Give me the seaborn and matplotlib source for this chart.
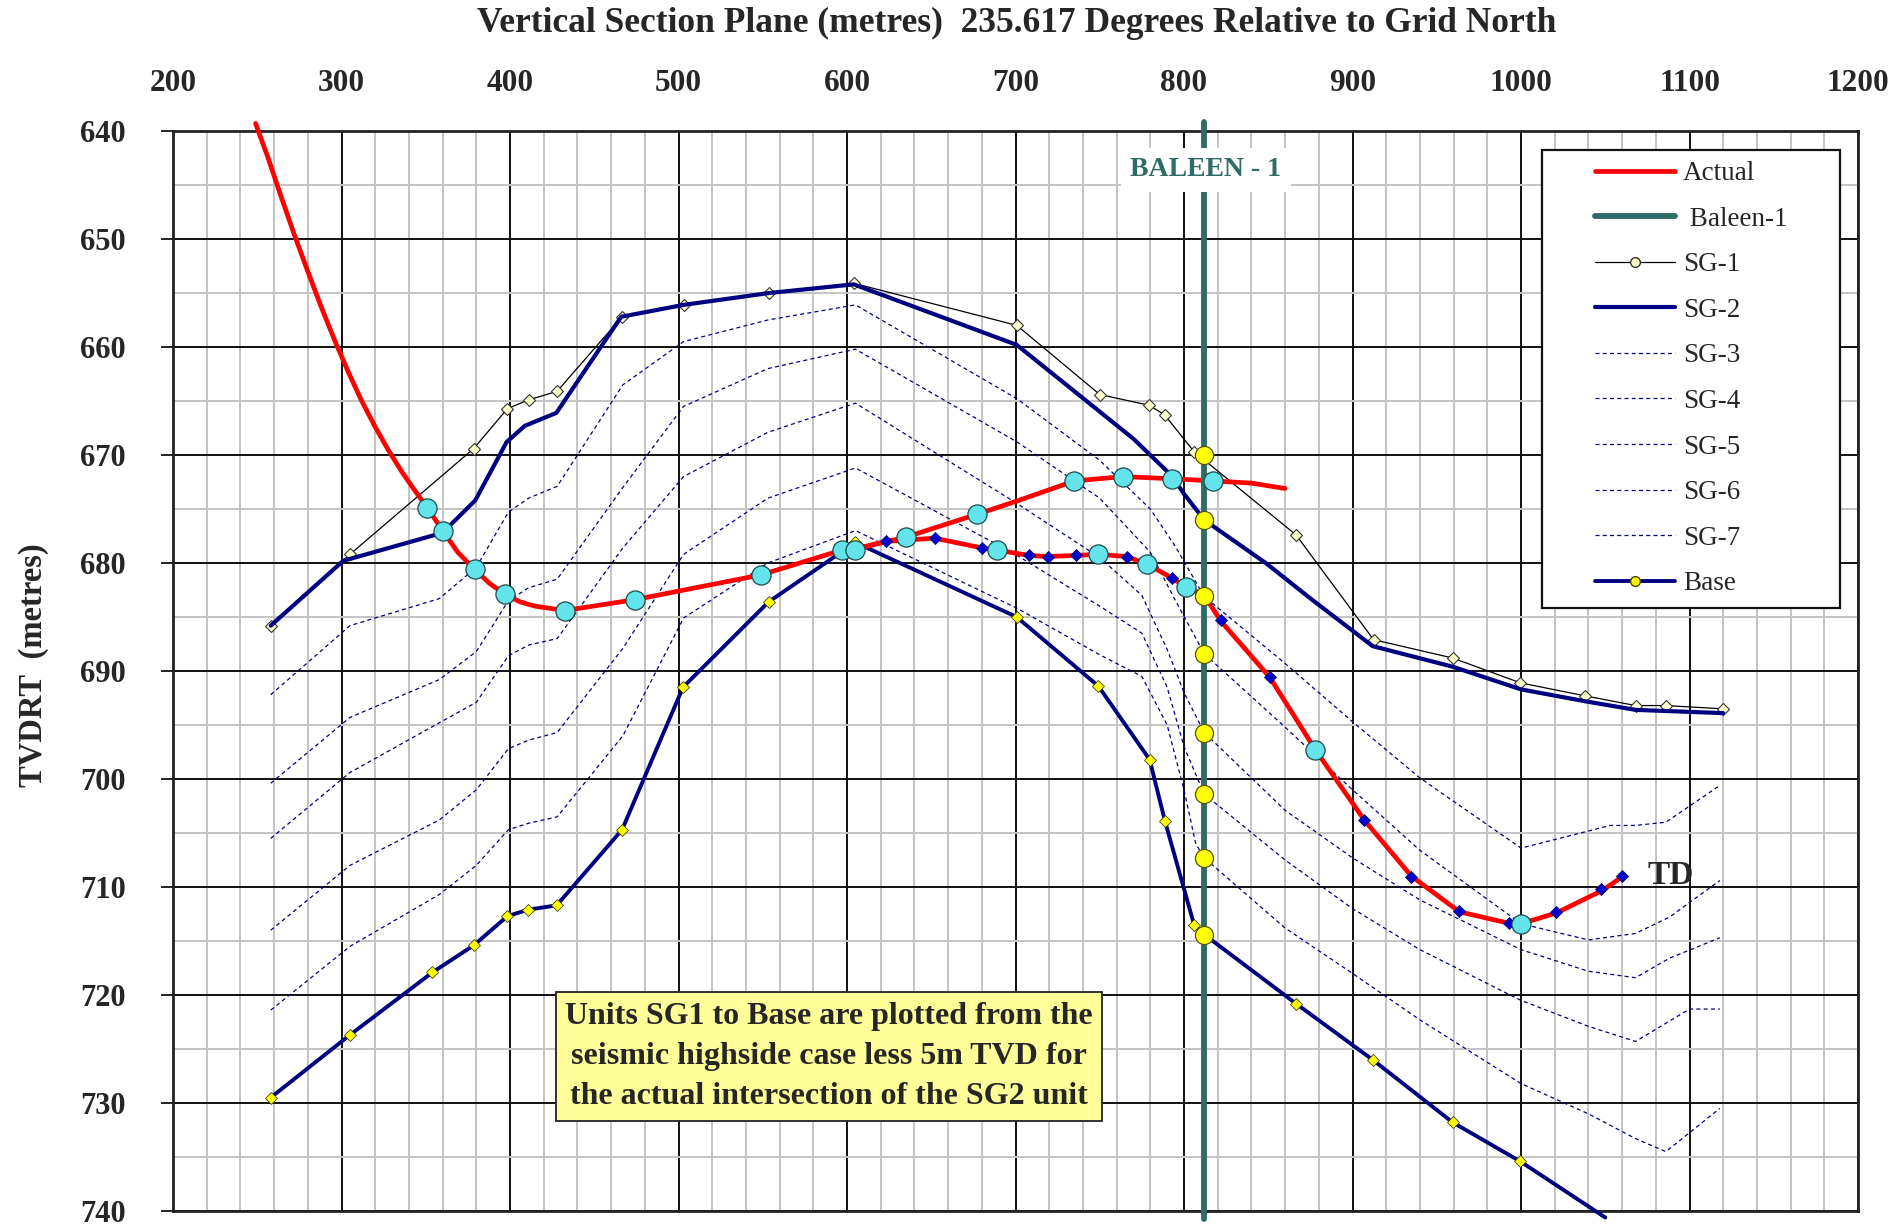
import numpy as np
import pandas as pd
import matplotlib
matplotlib.use("Agg")
import matplotlib.pyplot as plt
import seaborn as sns
from matplotlib.lines import Line2D
from matplotlib.patches import Rectangle
from matplotlib.ticker import MultipleLocator

# ---------------- data ----------------
actual_common_x = [249, 256, 264, 272, 280, 288, 296, 304, 312, 320, 328, 336, 344, 351, 360, 369, 379, 388, 397,
                   406, 415, 432.6, 474, 549, 597, 605]
actual_common_y = [639.3, 642.3, 646.0, 649.6, 653.0, 656.3, 659.4, 662.3, 665.0, 667.4, 669.6, 671.6, 673.4, 674.9,
                   677.0, 679.0, 680.6, 681.9, 682.9, 683.6, 684.0, 684.4, 683.4, 681.1, 678.8, 678.7]

actual_upper_x = [605, 635, 677, 702, 735, 764, 793, 817, 840, 860]
actual_upper_y = [678.7, 677.6, 675.5, 674.2, 672.4, 672.0, 672.2, 672.4, 672.6, 673.1]

actual_lower_x = [605, 623, 652, 680, 689, 708, 719, 736, 749, 766, 778, 793, 801, 812, 822, 851, 878, 907, 935,
                  963.5, 994, 1000, 1021, 1048.5, 1060.5]
actual_lower_y = [678.7, 678.0, 677.7, 678.6, 678.8, 679.3, 679.4, 679.3, 679.2, 679.4, 680.1, 681.4, 682.2, 683.0,
                  685.4, 690.6, 697.3, 703.8, 709.0, 712.3, 713.4, 713.4, 712.4, 710.3, 709.0]

survey_x = [623, 652, 680, 708, 719, 736, 766, 793, 822, 851, 907, 934.5, 963, 993, 1021, 1047.5, 1060]
survey_y = [678.0, 677.7, 678.6, 679.3, 679.4, 679.3, 679.4, 681.4, 685.3, 690.6, 703.8, 709.1, 712.2, 713.3, 712.3, 710.2, 709.0]

pick_x = [351, 360, 379, 397, 432.6, 474, 549, 597, 605, 635, 677, 735, 764, 793, 817, 689, 749, 778, 801, 878, 1000]
pick_y = [674.9, 677.0, 680.6, 682.9, 684.4, 683.4, 681.1, 678.8, 678.8, 677.6, 675.5, 672.4, 672.0, 672.2, 672.4,
          678.8, 679.2, 680.1, 682.2, 697.3, 713.4]

baleen_x = 812
baleen_top, baleen_bottom = 639.2, 740.7
baleen_tops_y = [670.0, 676.0, 683.1, 688.4, 695.7, 701.4, 707.3, 714.4]

sg1_x = [258, 305, 378.5, 398.5, 411, 428, 466.5, 503, 553.5, 604, 700.8, 750, 779.5, 788.6, 806, 866.5, 912.5,
         959.5, 999.7, 1038, 1068, 1086, 1119.6]
sg1_y = [685.8, 679.2, 669.4, 665.7, 664.9, 664.1, 657.2, 656.1, 655.0, 654.1, 658.0, 664.4, 665.4, 666.3, 669.7,
         677.4, 687.1, 688.8, 691.1, 692.3, 693.2, 693.2, 693.5]

sg2_x = [258, 301, 360, 379.4, 398, 408.8, 427.5, 466, 503, 553.9, 604, 700.7, 770, 792.6, 800, 812, 821, 848.5,
         876, 912, 959.4, 1000, 1038, 1068, 1120]
sg2_y = [685.8, 679.8, 677.2, 674.2, 668.8, 667.3, 666.1, 657.2, 656.1, 655.0, 654.2, 659.8, 668.5, 671.9, 673.6,
         676.0, 677.0, 680.0, 683.4, 687.7, 689.6, 691.7, 692.8, 693.6, 693.9]

sg3_x = [258, 305, 358, 380, 399, 411, 428, 467, 503, 553, 605, 701, 750, 780, 795, 812, 860, 900, 940, 1000, 1053,
         1068, 1086, 1118]
sg3_y = [692.2, 685.8, 683.3, 680.4, 675.3, 674.0, 672.9, 663.5, 659.5, 657.5, 656.1, 664.8, 670.5, 675.0, 678.5,
         683.1, 689.3, 694.7, 699.9, 706.4, 704.3, 704.3, 704.0, 700.6]

sg4_x = [258, 305, 358, 380, 399, 411, 428, 467, 503, 553, 605, 701, 750, 780, 795, 812, 860, 900, 940, 1000, 1040,
         1068, 1088, 1118]
sg4_y = [700.4, 694.3, 690.8, 688.2, 683.5, 682.3, 681.5, 673.0, 665.5, 662.0, 660.2, 668.8, 674.0, 679.0, 683.5,
         688.4, 695.2, 701.0, 706.6, 713.4, 714.9, 714.3, 712.8, 709.4]

sg5_x = [258, 305, 358, 380, 399, 411, 428, 467, 503, 553, 605, 701, 750, 775, 790, 800, 812, 860, 900, 940, 1000,
         1040, 1068, 1088, 1118]
sg5_y = [705.5, 699.4, 694.8, 692.9, 688.6, 687.6, 687.0, 678.6, 672.0, 667.9, 665.2, 674.5, 679.5, 683.0, 688.0,
         692.0, 695.7, 702.9, 707.3, 711.2, 715.8, 717.8, 718.4, 716.6, 714.7]

sg6_x = [258, 305, 358, 380, 399, 411, 428, 467, 503, 553, 605, 701, 750, 775, 790, 800, 812, 860, 900, 940, 1000,
         1040, 1068, 1100, 1118]
sg6_y = [714.0, 708.0, 703.8, 701.0, 697.2, 696.4, 695.7, 687.9, 679.2, 674.0, 671.2, 679.3, 684.0, 686.5, 691.5,
         697.0, 701.4, 707.5, 712.0, 715.8, 720.5, 722.9, 724.3, 721.3, 721.3]

sg7_x = [258, 305, 358, 380, 399, 411, 428, 467, 503, 553, 605, 701, 750, 775, 790, 800, 807, 812, 860, 900, 940,
         1000, 1040, 1068, 1086, 1118]
sg7_y = [721.4, 715.5, 710.7, 708.0, 704.7, 704.1, 703.5, 696.0, 685.1, 680.0, 677.0, 684.2, 688.5, 690.5, 695.0,
         701.0, 706.0, 707.3, 713.8, 718.0, 722.3, 728.2, 731.0, 733.3, 734.5, 730.5]

base_x = [258, 305, 354, 378.5, 398.5, 410.7, 427.7, 466.5, 502.7, 553.5, 605, 700.7, 749.2, 779.6, 788.7, 806,
          812, 866.5, 912, 959.5, 999.5, 1050]
base_y = [729.5, 723.7, 717.9, 715.4, 712.7, 712.1, 711.7, 704.7, 691.5, 683.6, 678.1, 685.0, 691.4, 698.2, 703.9,
          713.5, 714.4, 720.8, 726.0, 731.8, 735.4, 740.6]

legend_labels = ["Actual", " Baleen-1", "SG-1", "SG-2", "SG-3", "SG-4", "SG-5", "SG-6", "SG-7", "Base"]

title_text = "Vertical Section Plane (metres)  235.617 Degrees Relative to Grid North"
ylabel_text = "TVDRT  (metres)"
note_text = ("Units SG1 to Base are plotted from the\n"
             "seismic highside case less 5m TVD for\n"
             "the actual intersection of the SG2 unit")

# ---------------- style ----------------
RED = "#FF0000"
NAVY = "#000080"
TEAL = "#2F6B67"
CYAN = "#62E4EA"
YEL = "#FFFF00"
LYEL = "#FFFFCC"

sns.set_style("white")
plt.rcParams["font.family"] = ["Liberation Serif", "DejaVu Serif"]
plt.rcParams["font.weight"] = "bold"

W, H = 1904, 1227
fig = plt.figure(figsize=(W / 100, H / 100), dpi=100)
ax = fig.add_axes([173 / W, 1 - 1211 / H, (1858 - 173) / W, (1211 - 131) / H])


def line(x, y, **kw):
    df = pd.DataFrame({"x": x, "y": y})
    sns.lineplot(data=df, x="x", y="y", sort=False, estimator=None, ax=ax, legend=False, **kw)


def pts(x, y, **kw):
    df = pd.DataFrame({"x": x, "y": y})
    sns.scatterplot(data=df, x="x", y="y", ax=ax, legend=False, **kw)


dash = (0, (3.2, 2.6))
for xs, ys in [(sg3_x, sg3_y), (sg4_x, sg4_y), (sg5_x, sg5_y), (sg6_x, sg6_y), (sg7_x, sg7_y)]:
    line(xs, ys, color=NAVY, lw=0.9, linestyle=dash, zorder=2)

line(sg1_x, sg1_y, color="black", lw=0.9, marker="D", markersize=6, markerfacecolor=LYEL,
     markeredgecolor="#333333", markeredgewidth=0.8, zorder=3)
line(sg2_x, sg2_y, color=NAVY, lw=3.0, zorder=3)
line(base_x, base_y, color=NAVY, lw=2.8, marker="D", markersize=6, markerfacecolor=YEL,
     markeredgecolor="#444400", markeredgewidth=0.6, markevery=list(range(len(base_x) - 1)),
     zorder=3, clip_on=False)

line(actual_common_x, actual_common_y, color=RED, lw=3.4, zorder=4, clip_on=False)
line(actual_upper_x, actual_upper_y, color=RED, lw=3.4, zorder=4)
line(actual_lower_x, actual_lower_y, color=RED, lw=3.4, zorder=4)

line([baleen_x, baleen_x], [baleen_top, baleen_bottom], color=TEAL, lw=4.2, zorder=4.2, clip_on=False)

pts(survey_x, survey_y, marker="D", s=38, color="#0000CC", edgecolor="#000066", linewidth=0.5, zorder=4.5)
pts(pick_x, pick_y, marker="o", s=190, color=CYAN, edgecolor="#1E4B4B", linewidth=0.9, zorder=4.6)
pts([baleen_x] * len(baleen_tops_y), baleen_tops_y, marker="o", s=170, color=YEL, edgecolor="#555500",
    linewidth=0.9, zorder=4.7)

# ---------------- axes ----------------
ax.set_xlim(200, 1200)
ax.set_ylim(740, 640)
ax.xaxis.set_major_locator(MultipleLocator(100))
ax.xaxis.set_minor_locator(MultipleLocator(20))
ax.yaxis.set_major_locator(MultipleLocator(10))
ax.yaxis.set_minor_locator(MultipleLocator(5))
ax.set_axisbelow(True)
ax.grid(which="minor", color="#C4C4C4", lw=1.4)
ax.grid(which="major", color="#111111", lw=1.4)
ax.xaxis.tick_top()
ax.tick_params(axis="x", which="both", length=0, pad=24, labelsize=22.5)
ax.tick_params(axis="y", which="major", length=9, width=1.4, pad=25, labelsize=22, left=True)
ax.tick_params(axis="y", which="minor", length=0)
for sp in ax.spines.values():
    sp.set_linewidth(2.0)
    sp.set_color("#222222")
ax.set_xlabel("")
ax.set_ylabel("")

# ---------------- texts ----------------
fig.text(1017 / W, 1 - 23 / H, title_text, ha="center", va="center", fontsize=25.5, fontweight="bold")
fig.text(34 / W, 1 - 665 / H, ylabel_text, ha="center", va="center", rotation=90, fontsize=23.5,
         fontweight="bold")

ax.text(813, 643.6, "BALEEN - 1", ha="center", va="center", color=TEAL, fontsize=20, fontweight="bold",
        bbox=dict(boxstyle="square,pad=0.35", fc="white", ec="none"), zorder=6)
ax.text(1075, 708.9, "TD", ha="left", va="center", fontsize=24, fontweight="bold", zorder=6)
ax.text(589.3, 725.7, note_text, ha="center", va="center", fontsize=23, fontweight="bold", linespacing=1.5,
        bbox=dict(boxstyle="square,pad=0.3", fc="#FFFF99", ec="#222222", lw=1.3), zorder=6)

# ---------------- legend ----------------
handles = [
    Line2D([], [], color=RED, lw=3.4),
    Line2D([], [], color=TEAL, lw=4.2),
    Line2D([], [], color="black", lw=0.9, marker="o", markersize=7, markerfacecolor=LYEL, markeredgecolor="#333333"),
    Line2D([], [], color=NAVY, lw=3.0),
] + [Line2D([], [], color=NAVY, lw=0.9, linestyle=dash) for _ in range(5)] + [
    Line2D([], [], color=NAVY, lw=2.8, marker="o", markersize=7, markerfacecolor=YEL, markeredgecolor="#444400"),
]
ax.add_patch(Rectangle((1542 / W, 1 - 608 / H), 298 / W, 458 / H, transform=fig.transFigure,
                       facecolor="white", edgecolor="#111111", lw=1.6, zorder=7, clip_on=False))
leg = ax.legend(handles, legend_labels, loc="upper left", bbox_to_anchor=(1595 / W, 1 - 161 / H),
                bbox_transform=fig.transFigure, frameon=False, borderpad=0, borderaxespad=0,
                handlelength=2.95, handletextpad=0.3, labelspacing=0.76,
                prop={"family": ["Liberation Serif"], "weight": "normal", "size": 19.5})
leg.set_zorder(8)

fig.savefig("out.png", dpi=100)
